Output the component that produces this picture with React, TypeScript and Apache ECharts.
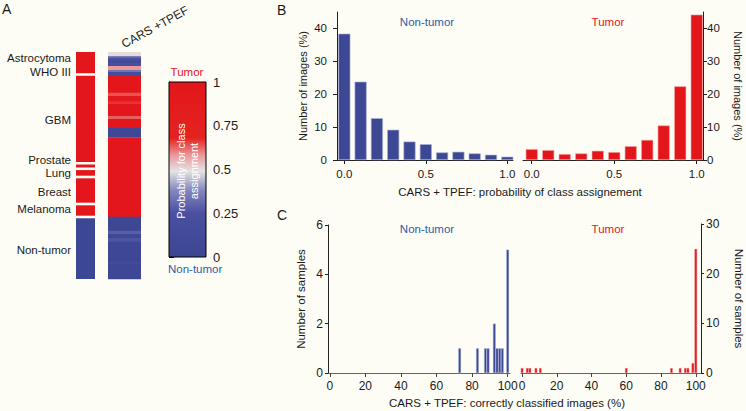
import React, { useEffect, useRef } from "react";
import * as echarts from "echarts";

const FONT = '"Liberation Sans", Arial, Helvetica, sans-serif';
const RED = "#e3161b";
const BLUE = "#3c4894";
const TUMOR_TXT = "#e8141c";
const NONTUMOR_TXT = "#2d5ca6";
const TXT = "#1a1a1a";
const BG = "#fdfdf6";

// ---------- Panel A ----------
const classNames = ["Astrocytoma\nWHO III", "GBM", "Prostate", "Lung", "Breast", "Melanoma", "Non-tumor"];
const classBounds = [0, 22.5, 111.2, 116.8, 125, 152, 165, 227];
const classIsTumor = [1, 1, 1, 1, 1, 1, 0];
const classLabelRows = [13, 68, 108, 121, 140, 157, 198];
// [row start, row end, probability for class assignment]
const stripeRows: [number, number, number][] = [
  [0, 4, 0.5], [4, 5.3, 0.36], [5.3, 8, 0.25], [8, 10.7, 0.1], [10.7, 14, 0.22],
  [14, 18, 0.58], [18, 20, 0.34], [20, 23, 0.2],
  [23, 40.7, 0.97], [40.7, 44, 0.64], [44, 49, 0.95], [49, 51.3, 0.67],
  [51.3, 64, 0.97], [64, 67, 0.63], [67, 75.7, 0.97], [75.7, 85.3, 0.05],
  [85.3, 164.7, 0.99], [164.7, 178.7, 0.04], [178.7, 181.3, 0.28], [181.3, 186, 0.06],
  [186, 189.7, 0.26], [189.7, 209.7, 0.04], [209.7, 212, 0.15], [212, 227, 0.04],
];
const colorbarTicks = [0, 0.25, 0.5, 0.75, 1];
const gradStops = [0, 0.25, 0.38, 0.49, 0.58, 0.68, 1];
const gradColors = ["#3c4692", "#4a4fa0", "#8486be", "#e4e2e4", "#eb9a9c", "#e3231f", "#e3161b"];

// ---------- Panel B ----------
const probBins = [0, 0.1, 0.2, 0.3, 0.4, 0.5, 0.6, 0.7, 0.8, 0.9, 1.0];
const nonTumorImagesPct = [38.4, 23.8, 12.7, 9.2, 5.6, 4.8, 2.3, 2.5, 2.0, 1.6, 1.0];
const tumorImagesPct = [3.3, 3.0, 1.8, 2.0, 2.8, 2.4, 4.2, 6.1, 10.5, 22.4, 44.2];
const probTicks = [0, 0.5, 1];
const imagesPctTicks = [0, 10, 20, 30, 40];

// ---------- Panel C ----------
const nonTumorCorrectPct = [73, 83, 87.5, 89, 92.5, 94, 95.5, 97, 100];
const nonTumorSampleCounts = [1, 1, 1, 1, 2, 1, 1, 1, 5];
const tumorCorrectPct = [0, 3, 4.5, 8, 10.5, 60, 86, 91, 94, 95.5, 98.3, 100];
const tumorSampleCounts = [1, 1, 1, 1, 1, 1, 1, 1, 1, 1, 2, 25];
const pctTicks = [0, 20, 40, 60, 80, 100];

function colorAt(p: number): string {
  for (let i = 0; i < gradStops.length - 1; i++) {
    if (p <= gradStops[i + 1]) {
      const t = (p - gradStops[i]) / (gradStops[i + 1] - gradStops[i]);
      return echarts.color.lerp(Math.max(0, Math.min(1, t)), [gradColors[i], gradColors[i + 1]]) as string;
    }
  }
  return gradColors[gradColors.length - 1];
}

const COL_A: [number, number] = [0, 19];
const COL_B: [number, number] = [32, 65];

const txt = (extra: any) => ({ fontFamily: FONT, fontSize: 11.5, color: TXT, ...extra });

function gtext(text: string, x: number, y: number, opts: any = {}) {
  const { rotation, ...style } = opts;
  return {
    type: "text",
    x,
    y,
    z: 100,
    zlevel: 0,
    rotation: rotation || 0,
    silent: true,
    style: {
      text,
      fill: TXT,
      fontFamily: FONT,
      fontSize: 11.5,
      align: "center",
      verticalAlign: "middle",
      ...style,
    },
  };
}

function axisCommon(color = "#222") {
  return {
    axisLine: { show: true, onZero: false, lineStyle: { color, width: 1 } },
    axisTick: { show: true, length: 4, lineStyle: { color, width: 1 } },
    splitLine: { show: false },
  };
}

function buildOption(): any {
  const gradient = {
    type: "linear",
    x: 0,
    y: 1,
    x2: 0,
    y2: 0,
    colorStops: gradStops.map((o, i) => ({ offset: o, color: gradColors[i] })),
  };

  return {
    animation: false,
    backgroundColor: BG,
    textStyle: { fontFamily: FONT },
    grid: [
      { left: 76, top: 52, width: 65, height: 227 }, // A columns
      { left: 169, top: 82, width: 37, height: 175 }, // colorbar
      { left: 337, top: 12, width: 176, height: 148 }, // B left
      { left: 523, top: 12, width: 180, height: 148 }, // B right
      { left: 328, top: 225, width: 182, height: 148 }, // C left
      { left: 521, top: 224, width: 183, height: 149 }, // C right
    ],
    xAxis: [
      { gridIndex: 0, type: "value", min: 0, max: 65, show: false },
      { gridIndex: 1, type: "value", min: 0, max: 1, show: false },
      {
        gridIndex: 2, type: "value", min: -0.045, max: 1.035, ...axisCommon(),
        axisTick: { show: true, length: 4, customValues: probTicks, lineStyle: { color: "#222" } },
        axisLabel: txt({ customValues: probTicks, formatter: (v: number) => v.toFixed(1), margin: 8 }),
      },
      {
        gridIndex: 3, type: "value", min: -0.053, max: 1.038, ...axisCommon(),
        axisTick: { show: true, length: 4, customValues: probTicks, lineStyle: { color: "#222" } },
        axisLabel: txt({ customValues: probTicks, formatter: (v: number) => v.toFixed(1), margin: 8 }),
      },
      {
        gridIndex: 4, type: "value", min: -1, max: 101.3, ...axisCommon("#666"),
        axisTick: { show: true, length: 4, customValues: pctTicks, lineStyle: { color: "#444" } },
        axisLabel: txt({ customValues: pctTicks, margin: 7, fontSize: 12 }),
      },
      {
        gridIndex: 5, type: "value", min: -0.6, max: 103, ...axisCommon("#666"),
        axisTick: { show: true, length: 4, customValues: pctTicks, lineStyle: { color: "#444" } },
        axisLabel: txt({ customValues: pctTicks, margin: 7, fontSize: 12 }),
      },
    ],
    yAxis: [
      { gridIndex: 0, type: "value", min: 0, max: 227, inverse: true, show: false },
      {
        gridIndex: 1, type: "value", min: 0, max: 1, interval: 0.25, position: "right",
        axisLine: { show: true, lineStyle: { color: "#000" } },
        axisTick: { show: true, length: 5, customValues: colorbarTicks, lineStyle: { color: "#000" } },
        axisLabel: txt({ customValues: colorbarTicks, fontSize: 13, margin: 7 }),
        splitLine: { show: false },
      },
      {
        gridIndex: 2, type: "value", min: 0, max: 45, ...axisCommon(),
        axisTick: { show: true, length: 4, customValues: imagesPctTicks, lineStyle: { color: "#222" } },
        axisLabel: txt({ customValues: imagesPctTicks, margin: 10 }),
        name: "Number of images (%)", nameLocation: "middle", nameGap: 29, nameRotate: 90,
        nameTextStyle: txt({ fontSize: 11 }),
      },
      {
        gridIndex: 3, type: "value", min: 0, max: 45, position: "right", ...axisCommon(),
        axisTick: { show: true, length: 4, customValues: imagesPctTicks, lineStyle: { color: "#222" } },
        axisLabel: txt({ customValues: imagesPctTicks, margin: 4 }),
        name: "Number of images (%)", nameLocation: "middle", nameGap: 29, nameRotate: -90,
        nameTextStyle: txt({ fontSize: 11 }),
      },
      {
        gridIndex: 4, type: "value", min: 0, max: 6, interval: 2, ...axisCommon(),
        axisTick: { show: true, length: 3, lineStyle: { color: "#222" } },
        axisLabel: txt({ margin: 5, fontSize: 12 }),
        name: "Number of samples", nameLocation: "middle", nameGap: 21, nameRotate: 90,
        nameTextStyle: txt({}),
      },
      {
        gridIndex: 5, type: "value", min: 0, max: 30, interval: 10, position: "right", ...axisCommon(),
        axisTick: { show: true, length: 3, lineStyle: { color: "#222" } },
        axisLabel: txt({ margin: 5, fontSize: 12 }),
        name: "Number of samples", nameLocation: "middle", nameGap: 32, nameRotate: -90,
        nameTextStyle: txt({}),
      },
    ],
    series: [
      // A: class column
      {
        type: "custom",
        xAxisIndex: 0,
        yAxisIndex: 0,
        data: classNames.map((_, i) => [classBounds[i], classBounds[i + 1], classIsTumor[i]]),
        renderItem: (params: any, api: any) => {
          const p0 = api.coord([COL_A[0], api.value(0)]);
          const p1 = api.coord([COL_A[1], api.value(1)]);
          const gt = params.dataIndex > 0 ? 1.3 : 0;
          const gb = params.dataIndex < classNames.length - 1 ? 1.3 : 0;
          return {
            type: "rect",
            shape: { x: p0[0], y: p0[1] + gt, width: p1[0] - p0[0], height: p1[1] - p0[1] - gt - gb },
            style: { fill: api.value(2) ? RED : BLUE },
          };
        },
      },
      // A: class labels
      {
        type: "custom",
        xAxisIndex: 0,
        yAxisIndex: 0,
        data: classLabelRows.map((r, i) => [r, i]),
        renderItem: (params: any, api: any) => {
          const p = api.coord([COL_A[0], api.value(0)]);
          return {
            type: "text",
            x: p[0] - 5,
            y: p[1],
            style: {
              text: classNames[params.dataIndex],
              align: "right",
              verticalAlign: "middle",
              fontFamily: FONT,
              fontSize: 11.5,
              lineHeight: 14,
              fill: TXT,
            },
          };
        },
      },
      // A: CARS + TPEF probability column
      {
        type: "custom",
        xAxisIndex: 0,
        yAxisIndex: 0,
        data: stripeRows.map((s) => [s[0], s[1], s[2]]),
        renderItem: (params: any, api: any) => {
          const p0 = api.coord([COL_B[0], api.value(0)]);
          const p1 = api.coord([COL_B[1], api.value(1)]);
          return {
            type: "rect",
            shape: { x: p0[0], y: p0[1], width: p1[0] - p0[0], height: p1[1] - p0[1] + 0.3 },
            style: { fill: colorAt(api.value(2)) },
          };
        },
      },
      // Colorbar
      {
        type: "custom",
        xAxisIndex: 1,
        yAxisIndex: 1,
        data: [[0, 0, 1, 1]],
        renderItem: (params: any, api: any) => {
          const p0 = api.coord([api.value(0), api.value(1)]);
          const p1 = api.coord([api.value(2), api.value(3)]);
          return {
            type: "rect",
            shape: { x: p0[0], y: p1[1], width: p1[0] - p0[0], height: p0[1] - p1[1] },
            style: { fill: gradient, stroke: "#000", lineWidth: 1 },
          };
        },
      },
      // B
      {
        type: "bar",
        xAxisIndex: 2,
        yAxisIndex: 2,
        barWidth: 12,
        data: probBins.map((b, i) => [b, nonTumorImagesPct[i]]),
        itemStyle: { color: BLUE, borderColor: "#aab0da", borderWidth: 0.6 },
      },
      {
        type: "bar",
        xAxisIndex: 3,
        yAxisIndex: 3,
        barWidth: 12,
        data: probBins.map((b, i) => [b, tumorImagesPct[i]]),
        itemStyle: { color: RED, borderColor: "#f4a0a0", borderWidth: 0.6 },
      },
      // C
      {
        type: "bar",
        xAxisIndex: 4,
        yAxisIndex: 4,
        barWidth: 2.6,
        data: nonTumorCorrectPct.map((v, i) => [v, nonTumorSampleCounts[i]]),
        itemStyle: { color: BLUE, borderColor: "#aab0da", borderWidth: 0.4 },
      },
      {
        type: "bar",
        xAxisIndex: 5,
        yAxisIndex: 5,
        barWidth: 2.6,
        data: tumorCorrectPct.map((v, i) => [v, tumorSampleCounts[i]]),
        itemStyle: { color: RED, borderColor: "#f4a0a0", borderWidth: 0.4 },
      },
    ],
    graphic: [
      gtext("A", 2, 9, { fontSize: 14, align: "left" }),
      gtext("B", 277, 9.5, { fontSize: 14, align: "left" }),
      gtext("C", 277, 215, { fontSize: 14, align: "left" }),
      gtext("CARS +TPEF", 155, 27, { rotation: 0.5, fontSize: 12 }),
      gtext("Tumor", 187, 72, { fill: TUMOR_TXT }),
      gtext("Non-tumor", 168, 269, { fill: NONTUMOR_TXT, align: "left" }),
      gtext("Probability for class\nassignment", 187, 171, {
        rotation: Math.PI / 2,
        fill: "#ffffff",
        fontSize: 11,
        lineHeight: 13,
      }),
      gtext("Non-tumor", 427, 22, { fill: NONTUMOR_TXT }),
      gtext("Tumor", 608, 22, { fill: TUMOR_TXT }),
      gtext("CARS + TPEF: probability of class assignement", 520, 192),
      gtext("Non-tumor", 427, 229, { fill: NONTUMOR_TXT }),
      gtext("Tumor", 608, 229, { fill: TUMOR_TXT }),
      gtext("CARS + TPEF: correctly classified images (%)", 507, 403),
    ],
  };
}

export default function App() {
  const ref = useRef<HTMLDivElement>(null);
  useEffect(() => {
    document.body.style.margin = "0";
    document.body.style.background = BG;
    const chart = echarts.init(ref.current!, null, { renderer: "svg" });
    chart.setOption(buildOption());
    return () => chart.dispose();
  }, []);
  return <div ref={ref} style={{ width: 746, height: 411, background: BG }} />;
}
